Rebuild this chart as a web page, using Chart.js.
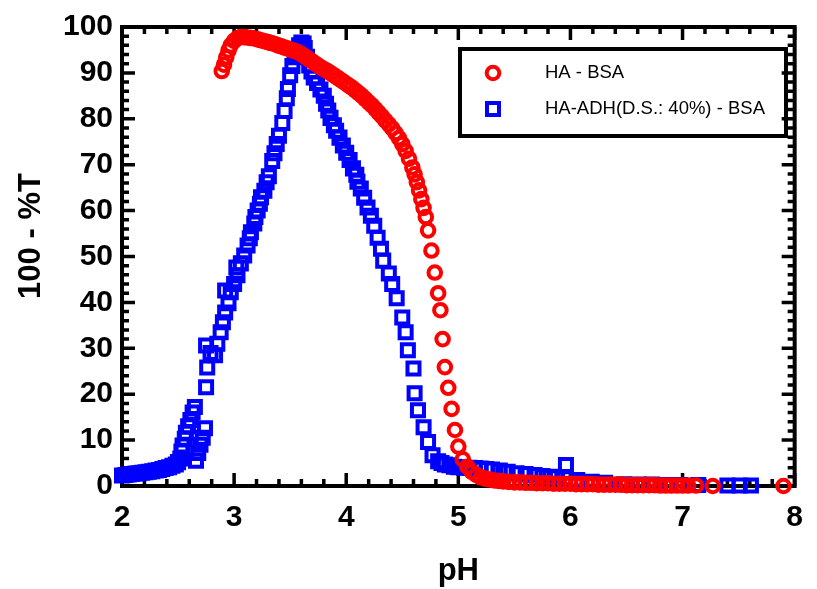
<!DOCTYPE html>
<html>
<head>
<meta charset="utf-8">
<script src="https://cdn.jsdelivr.net/npm/chart.js@4.4.1/dist/chart.umd.min.js"></script>
<style>
  html, body { margin: 0; padding: 0; background: #fff; }
  #kontener { width: 817px; height: 589px; }
</style>
</head>
<body>
<div id="kontener"><canvas id="wykres" width="817" height="589"></canvas></div>
<script>
// HA - BSA (kolka)
const phHA = [
  2.89, 2.91, 2.93, 2.95, 2.97, 3.00, 3.03, 3.06, 3.09, 3.12, 3.15, 3.18, 3.21, 3.24, 3.27, 3.30,
  3.33, 3.36, 3.39, 3.42, 3.45, 3.48, 3.51, 3.54, 3.57, 3.60, 3.63, 3.66, 3.69, 3.72, 3.75, 3.78,
  3.81, 3.84, 3.87, 3.90, 3.93, 3.96, 3.99, 4.02, 4.05, 4.08, 4.11, 4.14, 4.17, 4.20, 4.23, 4.26,
  4.29, 4.32, 4.35, 4.38, 4.41, 4.44, 4.47, 4.50, 4.53, 4.56, 4.59, 4.61, 4.63, 4.65, 4.67, 4.69,
  4.71, 4.73, 4.76, 4.79, 4.82, 4.84, 4.86, 4.88, 4.91, 4.94, 4.97, 5.00, 5.04, 5.08, 5.12, 5.16,
  5.20, 5.24, 5.28, 5.32, 5.36, 5.40, 5.45, 5.50, 5.55, 5.60, 5.65, 5.70, 5.75, 5.80, 5.85, 5.90,
  5.95, 6.00, 6.05, 6.10, 6.15, 6.20, 6.25, 6.30, 6.35, 6.40, 6.45, 6.50, 6.55, 6.60, 6.65, 6.70,
  6.75, 6.80, 6.85, 6.90, 6.95, 7.00, 7.05, 7.12, 7.27, 7.90
];
const wartosciHA = [
  90.4, 91.8, 93.4, 94.9, 96.0, 97.0, 97.6, 97.8, 97.8, 97.7, 97.6, 97.5, 97.3, 97.1, 96.9, 96.7,
  96.5, 96.3, 96.0, 95.8, 95.5, 95.3, 95.0, 94.8, 94.5, 94.1, 93.6, 93.1, 92.6, 92.1, 91.6, 91.1,
  90.7, 90.3, 89.8, 89.3, 88.8, 88.3, 87.8, 87.3, 86.8, 86.2, 85.6, 85.0, 84.3, 83.6, 82.9, 82.1,
  81.3, 80.5, 79.6, 78.8, 77.9, 76.9, 75.8, 74.5, 73.0, 71.3, 69.4, 67.9, 66.2, 64.4, 62.5, 60.6,
  58.6, 55.7, 51.3, 46.5, 42.0, 38.3, 32.0, 25.9, 21.4, 16.8, 12.2, 8.6, 5.8, 4.2, 3.1, 2.4,
  1.9, 1.6, 1.4, 1.2, 1.1, 1.0, 0.9, 0.8, 0.8, 0.7, 0.7, 0.6, 0.6, 0.6, 0.5, 0.5,
  0.5, 0.5, 0.4, 0.4, 0.4, 0.4, 0.3, 0.3, 0.3, 0.3, 0.3, 0.2, 0.2, 0.2, 0.2, 0.2,
  0.2, 0.1, 0.1, 0.1, 0.1, 0.1, 0.1, 0.1, 0.0, 0.0
];

// HA-ADH(D.S.: 40%) - BSA (kwadraty)
const phADH = [
  2.00, 2.03, 2.06, 2.09, 2.12, 2.15, 2.18, 2.21, 2.24, 2.27, 2.30, 2.33, 2.36, 2.39, 2.42, 2.45,
  2.48, 2.50, 2.52, 2.53, 2.54, 2.56, 2.57, 2.59, 2.61, 2.63, 2.65, 2.66, 2.68, 2.70, 2.72, 2.74,
  2.75, 2.76, 2.75, 2.79, 2.83, 2.85, 2.88, 2.90, 2.92, 2.95, 2.92, 2.97, 3.00, 3.03, 3.02, 3.06,
  3.09, 3.12, 3.14, 3.15, 3.18, 3.19, 3.21, 3.23, 3.24, 3.27, 3.29, 3.31, 3.34, 3.36, 3.38, 3.40,
  3.43, 3.45, 3.47, 3.48, 3.50, 3.52, 3.54, 3.56, 3.58, 3.60, 3.62, 3.63, 3.65, 3.67, 3.69, 3.71,
  3.74, 3.77, 3.80, 3.82, 3.84, 3.86, 3.89, 3.91, 3.94, 3.97, 4.00, 4.03, 4.06, 4.09, 4.10, 4.13,
  4.16, 4.19, 4.22, 4.25, 4.28, 4.31, 4.33, 4.38, 4.41, 4.45, 4.50, 4.53, 4.55, 4.60, 4.61, 4.64,
  4.69, 4.73, 4.77, 4.82, 4.85, 4.88, 4.92, 4.96, 5.00, 5.05, 5.10, 5.15, 5.20, 5.25, 5.30, 5.37,
  5.44, 5.52, 5.60, 5.68, 5.75, 5.82, 5.88, 5.95, 5.96, 6.06, 6.19, 6.31, 6.48, 6.61, 6.73, 6.87,
  6.98, 7.14, 7.40, 7.51, 7.61
];
const wartosciADH = [
  2.3, 2.4, 2.5, 2.6, 2.7, 2.8, 2.9, 3.0, 3.1, 3.2, 3.4, 3.5, 3.7, 3.9, 4.1, 4.4,
  4.7, 5.2, 6.0, 7.5, 8.8, 10.3, 11.6, 13.0, 14.4, 16.0, 17.2, 5.5, 7.2, 9.0, 10.5, 12.6,
  21.5, 25.8, 30.6, 29.0, 28.5, 31.0, 33.5, 35.7, 37.8, 39.8, 42.6, 42.2, 44.0, 45.9, 47.6, 48.5,
  50.2, 52.4, 54.0, 55.3, 57.2, 58.6, 60.0, 61.5, 62.9, 64.3, 66.2, 67.5, 70.8, 72.5, 74.5, 76.3,
  79.1, 81.7, 84.5, 86.5, 89.5, 91.5, 93.4, 94.9, 96.0, 96.6, 96.4, 95.4, 93.5, 91.6, 90.3, 89.0,
  87.8, 86.4, 85.0, 83.3, 81.8, 80.2, 78.6, 77.4, 75.9, 74.2, 72.6, 71.0, 69.2, 67.8, 66.3, 64.8,
  62.8, 60.7, 58.9, 56.7, 54.1, 51.7, 49.1, 46.3, 44.0, 40.9, 36.7, 33.5, 29.6, 25.6, 20.2, 16.5,
  12.8, 9.6, 6.7, 5.4, 5.0, 4.7, 4.5, 4.2, 4.1, 4.0, 4.0, 3.9, 3.8, 3.7, 3.6, 3.4,
  3.1, 2.8, 2.6, 2.4, 2.2, 2.0, 1.9, 1.7, 4.6, 1.3, 0.9, 0.7, 0.4, 0.3, 0.3, 0.2,
  0.2, 0.2, 0.1, 0.1, 0.1
];

const etykietyX = [2, 3, 4, 5, 6, 7, 8];
const etykietyY = [0, 10, 20, 30, 40, 50, 60, 70, 80, 90, 100];
const nazwySerii = ['HA - BSA', 'HA-ADH(D.S.: 40%) - BSA'];
const tytulX = 'pH';
const tytulY = '100 - %T';

const CZCIONKA = "'Liberation Sans', Arial, sans-serif";

function punkty(xs, ys) {
  return xs.map((x, i) => ({ x: x, y: ys[i] }));
}

// ramka z kreskami skierowanymi do srodka, tytuly osi i legenda w ramce
const ramkaWykresu = {
  id: 'ramkaWykresu',
  beforeDatasetsDraw(chart) {
    const ctx = chart.ctx;
    const a = chart.chartArea;
    const sx = chart.scales.x;
    const sy = chart.scales.y;
    ctx.save();
    ctx.strokeStyle = '#000';
    ctx.lineWidth = 3.5;
    ctx.lineCap = 'butt';
    for (let i = 0; i <= 30; i++) {
      const px = sx.getPixelForValue(2 + i * 0.2);
      const dl = i % 5 === 0 ? 13 : 7;
      ctx.beginPath();
      ctx.moveTo(px, a.bottom); ctx.lineTo(px, a.bottom - dl);
      ctx.moveTo(px, a.top); ctx.lineTo(px, a.top + dl);
      ctx.stroke();
    }
    for (let i = 0; i <= 50; i++) {
      const py = sy.getPixelForValue(i * 2);
      const dl = i % 5 === 0 ? 13 : 7;
      ctx.beginPath();
      ctx.moveTo(a.left, py); ctx.lineTo(a.left + dl, py);
      ctx.moveTo(a.right, py); ctx.lineTo(a.right - dl, py);
      ctx.stroke();
    }
    ctx.lineWidth = 4;
    ctx.strokeRect(a.left, a.top, a.right - a.left, a.bottom - a.top);
    ctx.restore();
  },
  afterDatasetsDraw(chart) {
    const ctx = chart.ctx;
    const a = chart.chartArea;
    ctx.save();
    ctx.fillStyle = '#000';
    ctx.font = 'bold 31px ' + CZCIONKA;
    ctx.textAlign = 'center';
    ctx.textBaseline = 'middle';
    ctx.fillText(tytulX, (a.left + a.right) / 2, 571);
    ctx.translate(31, 236);
    ctx.rotate(-Math.PI / 2);
    ctx.fillText(tytulY, 0, 0);
    ctx.restore();

    // legenda
    ctx.save();
    ctx.strokeStyle = '#000';
    ctx.lineWidth = 4;
    ctx.strokeRect(460, 49, 326, 87);
    const ds = chart.data.datasets;
    const wiersze = [73, 109];
    ctx.font = '18.5px ' + CZCIONKA;
    ctx.textAlign = 'left';
    ctx.textBaseline = 'middle';
    wiersze.forEach((y, i) => {
      ctx.strokeStyle = ds[i].borderColor;
      ctx.lineWidth = ds[i].borderWidth;
      ctx.beginPath();
      if (ds[i].pointStyle === 'circle') {
        ctx.arc(493, y, ds[i].pointRadius, 0, Math.PI * 2);
      } else {
        const b = ds[i].pointRadius * Math.SQRT1_2;
        ctx.rect(493 - b, y - b, 2 * b, 2 * b);
      }
      ctx.stroke();
      ctx.fillStyle = '#000';
      ctx.fillText(nazwySerii[i], 545, y);
    });
    ctx.restore();
  }
};

const ctx = document.getElementById('wykres').getContext('2d');
new Chart(ctx, {
  type: 'scatter',
  data: {
    datasets: [
      {
        label: nazwySerii[0],
        data: punkty(phHA, wartosciHA),
        pointStyle: 'circle',
        pointRadius: 6.3,
        borderWidth: 4,
        borderColor: '#ff0000',
        backgroundColor: 'rgba(0,0,0,0)',
        clip: false
      },
      {
        label: nazwySerii[1],
        data: punkty(phADH, wartosciADH),
        pointStyle: 'rect',
        pointRadius: 8.5,
        borderWidth: 4,
        borderColor: '#0000ff',
        backgroundColor: 'rgba(0,0,0,0)',
        clip: false
      }
    ]
  },
  options: {
    responsive: false,
    animation: false,
    devicePixelRatio: 1,
    layout: { padding: { top: 26, right: 11, left: 0, bottom: 0 } },
    plugins: { legend: { display: false }, tooltip: { enabled: false } },
    scales: {
      x: {
        type: 'linear',
        min: 2,
        max: 8,
        afterBuildTicks: s => { s.ticks = etykietyX.map(v => ({ value: v })); },
        afterFit: s => { s.height = 103; },
        grid: { display: false, drawTicks: false },
        border: { display: false },
        ticks: { color: '#000', padding: 14, font: { family: CZCIONKA, size: 30, weight: 'bold' } }
      },
      y: {
        type: 'linear',
        min: 0,
        max: 100,
        afterBuildTicks: s => { s.ticks = etykietyY.map(v => ({ value: v })); },
        afterFit: s => { s.width = 122; },
        grid: { display: false, drawTicks: false },
        border: { display: false },
        ticks: { color: '#000', padding: 9, font: { family: CZCIONKA, size: 30, weight: 'bold' } }
      }
    }
  },
  plugins: [ramkaWykresu]
});
</script>
</body>
</html>
